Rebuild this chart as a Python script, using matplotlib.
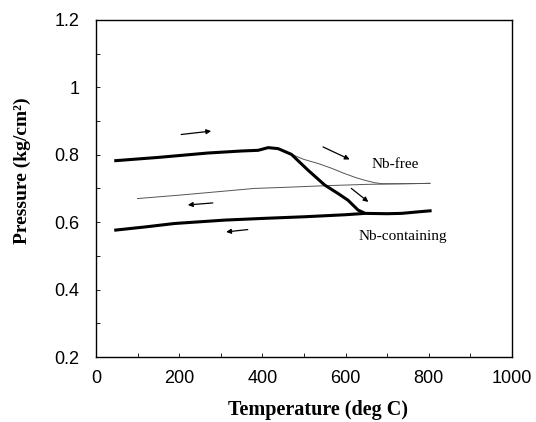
import matplotlib
matplotlib.use("Agg")
import matplotlib.pyplot as plt
from matplotlib.ticker import MultipleLocator

# Nb-containing: heating branch
nbc_heat_T = [44, 150, 269, 350, 390, 414, 438, 470, 510, 550, 582, 606, 630, 647]
nbc_heat_P = [0.782, 0.792, 0.805, 0.811, 0.813, 0.821, 0.818, 0.801, 0.754, 0.710, 0.685, 0.665, 0.636, 0.626]
# Nb-containing: cooling branch (and high-T plateau)
nbc_cool_T = [44, 120, 189, 309, 400, 502, 600, 647, 700, 735, 770, 807]
nbc_cool_P = [0.576, 0.586, 0.596, 0.606, 0.611, 0.616, 0.622, 0.626, 0.625, 0.626, 0.630, 0.634]
# Nb-free: heating departure
nbf_heat_T = [438, 470, 500, 534, 566, 598, 625, 647, 670, 687, 740, 803]
nbf_heat_P = [0.818, 0.801, 0.786, 0.774, 0.760, 0.744, 0.732, 0.724, 0.717, 0.714, 0.714, 0.715]
# Nb-free: cooling branch
nbf_cool_T = [100, 200, 300, 381, 450, 550, 650, 700, 803]
nbf_cool_P = [0.670, 0.680, 0.691, 0.700, 0.703, 0.708, 0.712, 0.713, 0.715]

# arrows: (T_start, P_start, T_end, P_end)
arrows = [
    (205, 0.860, 277, 0.870),
    (546, 0.823, 610, 0.786),
    (614, 0.700, 655, 0.660),
    (281, 0.657, 221, 0.651),
    (365, 0.578, 313, 0.571),
]

labels = [("Nb-free", 720, 0.772), ("Nb-containing", 737, 0.558)]

fig = plt.figure(figsize=(5.36, 4.22), dpi=100)
ax = fig.add_axes([0.179, 0.154, 0.776, 0.799])

ax.plot(nbf_cool_T, nbf_cool_P, color="#555555", lw=0.7)
ax.plot(nbf_heat_T, nbf_heat_P, color="#555555", lw=0.7)
ax.plot(nbc_cool_T, nbc_cool_P, color="black", lw=2.2, solid_capstyle="butt")
ax.plot(nbc_heat_T, nbc_heat_P, color="black", lw=2.2, solid_capstyle="butt")

for t0, p0, t1, p1 in arrows:
    ax.annotate("", xy=(t1, p1), xytext=(t0, p0),
                arrowprops=dict(arrowstyle="-|>", color="black", lw=0.9,
                                mutation_scale=7, shrinkA=0, shrinkB=0))

for txt, t, p in labels:
    ax.text(t, p, txt, ha="center", va="center", fontsize=11,
            family="Liberation Serif")

ax.set_xlim(0, 1000)
ax.set_ylim(0.2, 1.2)
ax.xaxis.set_major_locator(MultipleLocator(200))
ax.xaxis.set_minor_locator(MultipleLocator(100))
ax.yaxis.set_minor_locator(MultipleLocator(0.1))
ax.set_yticks([0.2, 0.4, 0.6, 0.8, 1.0, 1.2])
ax.set_yticklabels(["0.2", "0.4", "0.6", "0.8", "1", "1.2"])
ax.tick_params(which="both", direction="in", length=3, width=0.6, labelsize=13)
ax.tick_params(axis="x", pad=9)
ax.tick_params(axis="y", pad=12)
for lab in ax.get_xticklabels() + ax.get_yticklabels():
    lab.set_family("Liberation Sans")
for s in ax.spines.values():
    s.set_linewidth(1.0)

ax.set_xlabel("Temperature (deg C)", fontsize=14.5, fontweight="bold",
              family="Liberation Serif")
ax.set_ylabel("Pressure (kg/cm²)", fontsize=14, fontweight="bold",
              family="Liberation Serif")
ax.xaxis.set_label_coords(0.534, -0.128)
ax.yaxis.set_label_coords(-0.155, 0.552)

fig.savefig("out.png", dpi=100)
